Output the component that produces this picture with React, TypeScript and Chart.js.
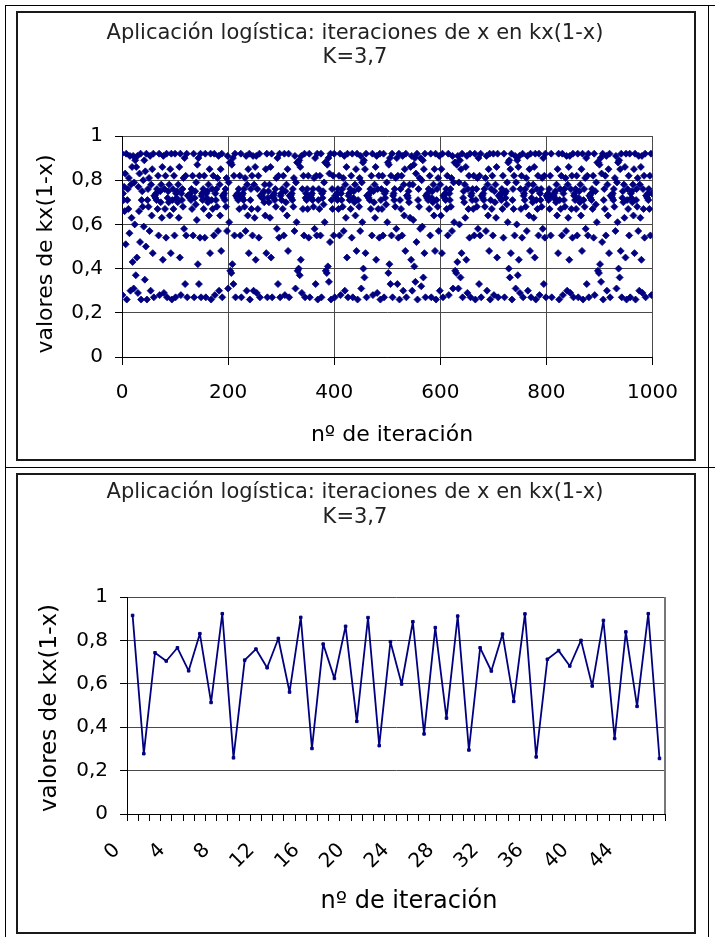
import React, { useEffect, useRef } from 'react';
import { Chart, registerables } from 'chart.js';

Chart.register(...registerables);

const FONT = '"DejaVu Sans", Verdana, sans-serif';
const NAVY = '#000080';
const GRID = '#4a4a4a';

const TITLE_LINE_1 = 'Aplicación logística: iteraciones de x en kx(1-x)';
const TITLE_LINE_2 = 'K=3,7';
const Y_TITLE = 'valores de kx(1-x)';
const X_TITLE = 'nº de iteración';

const Y_TICK_LABELS = ['0', '0,2', '0,4', '0,6', '0,8', '1'];
const TOP_X_TICK_LABELS = ['0', '200', '400', '600', '800', '1000'];

// ---- top chart: 1000 iterations (two decimals) ----
const iter000to199 = [
  0.92, 0.28, 0.74, 0.71, 0.77, 0.66, 0.83, 0.51, 0.92, 0.26,
  0.71, 0.76, 0.67, 0.81, 0.56, 0.91, 0.30, 0.78, 0.63, 0.86,
  0.43, 0.91, 0.31, 0.79, 0.60, 0.89, 0.37, 0.86, 0.45, 0.91,
  0.29, 0.77, 0.66, 0.83, 0.52, 0.92, 0.26, 0.71, 0.75, 0.68,
  0.80, 0.59, 0.89, 0.35, 0.84, 0.50, 0.92, 0.26, 0.71, 0.76,
  0.68, 0.81, 0.57, 0.91, 0.30, 0.78, 0.64, 0.85, 0.47, 0.92,
  0.27, 0.73, 0.73, 0.72, 0.74, 0.71, 0.76, 0.67, 0.82, 0.55,
  0.92, 0.28, 0.75, 0.70, 0.78, 0.63, 0.86, 0.44, 0.91, 0.29,
  0.76, 0.67, 0.82, 0.54, 0.92, 0.27, 0.72, 0.75, 0.70, 0.78,
  0.64, 0.85, 0.47, 0.92, 0.26, 0.71, 0.76, 0.67, 0.82, 0.55,
  0.92, 0.27, 0.74, 0.72, 0.75, 0.70, 0.78, 0.63, 0.86, 0.45,
  0.92, 0.28, 0.74, 0.71, 0.76, 0.68, 0.81, 0.58, 0.90, 0.33,
  0.82, 0.55, 0.92, 0.27, 0.73, 0.73, 0.73, 0.73, 0.72, 0.74,
  0.71, 0.76, 0.67, 0.82, 0.55, 0.92, 0.27, 0.72, 0.75, 0.69,
  0.79, 0.62, 0.87, 0.42, 0.90, 0.33, 0.82, 0.54, 0.92, 0.27,
  0.73, 0.74, 0.71, 0.76, 0.67, 0.82, 0.54, 0.92, 0.27, 0.74,
  0.72, 0.75, 0.70, 0.78, 0.64, 0.85, 0.47, 0.92, 0.26, 0.71,
  0.76, 0.67, 0.82, 0.55, 0.92, 0.28, 0.74, 0.71, 0.76, 0.68,
  0.81, 0.57, 0.91, 0.30, 0.78, 0.64, 0.85, 0.48, 0.92, 0.27,
  0.73, 0.73, 0.72, 0.74, 0.71, 0.76, 0.68, 0.81, 0.57, 0.91,
];
const iter200to399 = [
  0.31, 0.79, 0.61, 0.88, 0.39, 0.88, 0.38, 0.87, 0.42, 0.90,
  0.33, 0.82, 0.55, 0.92, 0.27, 0.73, 0.73, 0.72, 0.74, 0.71,
  0.76, 0.67, 0.82, 0.55, 0.92, 0.27, 0.73, 0.72, 0.74, 0.71,
  0.76, 0.68, 0.81, 0.57, 0.91, 0.30, 0.78, 0.64, 0.85, 0.47,
  0.92, 0.26, 0.71, 0.76, 0.67, 0.82, 0.55, 0.91, 0.30, 0.78,
  0.63, 0.86, 0.44, 0.91, 0.29, 0.76, 0.67, 0.82, 0.54, 0.92,
  0.27, 0.73, 0.73, 0.73, 0.72, 0.74, 0.72, 0.75, 0.70, 0.78,
  0.64, 0.85, 0.47, 0.92, 0.27, 0.72, 0.75, 0.70, 0.78, 0.63,
  0.86, 0.45, 0.92, 0.27, 0.73, 0.73, 0.72, 0.74, 0.71, 0.76,
  0.68, 0.81, 0.58, 0.90, 0.33, 0.82, 0.54, 0.92, 0.27, 0.73,
  0.74, 0.71, 0.76, 0.67, 0.82, 0.55, 0.92, 0.28, 0.75, 0.70,
  0.78, 0.64, 0.85, 0.48, 0.92, 0.27, 0.73, 0.73, 0.73, 0.72,
  0.74, 0.71, 0.76, 0.68, 0.81, 0.57, 0.91, 0.31, 0.79, 0.61,
  0.88, 0.39, 0.88, 0.40, 0.89, 0.37, 0.86, 0.44, 0.91, 0.29,
  0.76, 0.67, 0.82, 0.55, 0.92, 0.27, 0.72, 0.74, 0.71, 0.76,
  0.67, 0.82, 0.54, 0.92, 0.27, 0.73, 0.73, 0.72, 0.74, 0.71,
  0.76, 0.68, 0.81, 0.58, 0.90, 0.33, 0.82, 0.55, 0.92, 0.26,
  0.71, 0.76, 0.67, 0.82, 0.55, 0.92, 0.27, 0.74, 0.72, 0.75,
  0.69, 0.79, 0.61, 0.88, 0.39, 0.88, 0.38, 0.87, 0.41, 0.90,
  0.34, 0.83, 0.52, 0.92, 0.26, 0.71, 0.76, 0.67, 0.82, 0.55,
];
const iter400to599 = [
  0.92, 0.27, 0.73, 0.73, 0.72, 0.74, 0.71, 0.76, 0.67, 0.82,
  0.55, 0.92, 0.28, 0.74, 0.71, 0.76, 0.68, 0.81, 0.57, 0.91,
  0.30, 0.78, 0.63, 0.86, 0.45, 0.92, 0.27, 0.73, 0.74, 0.71,
  0.76, 0.67, 0.82, 0.54, 0.92, 0.27, 0.72, 0.75, 0.70, 0.78,
  0.64, 0.85, 0.48, 0.92, 0.26, 0.71, 0.76, 0.68, 0.81, 0.57,
  0.91, 0.31, 0.79, 0.61, 0.88, 0.40, 0.89, 0.36, 0.85, 0.47,
  0.92, 0.27, 0.73, 0.73, 0.73, 0.72, 0.74, 0.71, 0.76, 0.67,
  0.82, 0.55, 0.92, 0.28, 0.75, 0.70, 0.78, 0.63, 0.86, 0.44,
  0.91, 0.29, 0.76, 0.67, 0.82, 0.54, 0.92, 0.26, 0.71, 0.76,
  0.67, 0.82, 0.55, 0.92, 0.27, 0.74, 0.72, 0.75, 0.69, 0.79,
  0.61, 0.88, 0.38, 0.87, 0.42, 0.90, 0.33, 0.82, 0.55, 0.92,
  0.27, 0.73, 0.74, 0.71, 0.76, 0.68, 0.81, 0.58, 0.90, 0.33,
  0.82, 0.54, 0.92, 0.26, 0.71, 0.76, 0.67, 0.82, 0.55, 0.91,
  0.30, 0.78, 0.64, 0.85, 0.48, 0.92, 0.27, 0.73, 0.73, 0.72,
  0.75, 0.70, 0.78, 0.63, 0.86, 0.44, 0.91, 0.30, 0.78, 0.62,
  0.87, 0.41, 0.90, 0.34, 0.83, 0.52, 0.92, 0.26, 0.71, 0.76,
  0.68, 0.81, 0.58, 0.90, 0.32, 0.80, 0.59, 0.89, 0.36, 0.85,
  0.47, 0.92, 0.27, 0.73, 0.73, 0.72, 0.74, 0.71, 0.76, 0.67,
  0.82, 0.55, 0.92, 0.27, 0.72, 0.75, 0.70, 0.78, 0.64, 0.85,
  0.48, 0.92, 0.26, 0.71, 0.76, 0.68, 0.81, 0.57, 0.91, 0.30,
];
const iter600to799 = [
  0.78, 0.64, 0.85, 0.47, 0.92, 0.27, 0.73, 0.73, 0.72, 0.74,
  0.71, 0.76, 0.67, 0.82, 0.55, 0.92, 0.28, 0.74, 0.71, 0.76,
  0.68, 0.81, 0.57, 0.91, 0.31, 0.79, 0.61, 0.88, 0.39, 0.88,
  0.38, 0.87, 0.43, 0.91, 0.31, 0.79, 0.60, 0.89, 0.36, 0.85,
  0.47, 0.92, 0.27, 0.72, 0.75, 0.70, 0.78, 0.63, 0.86, 0.44,
  0.91, 0.29, 0.76, 0.67, 0.82, 0.54, 0.92, 0.27, 0.73, 0.74,
  0.71, 0.76, 0.67, 0.82, 0.55, 0.92, 0.26, 0.71, 0.76, 0.68,
  0.81, 0.58, 0.90, 0.33, 0.82, 0.55, 0.92, 0.27, 0.73, 0.73,
  0.72, 0.74, 0.71, 0.76, 0.68, 0.81, 0.57, 0.91, 0.30, 0.78,
  0.64, 0.85, 0.48, 0.92, 0.26, 0.71, 0.76, 0.67, 0.82, 0.55,
  0.92, 0.28, 0.75, 0.70, 0.78, 0.63, 0.86, 0.45, 0.92, 0.27,
  0.73, 0.73, 0.73, 0.72, 0.74, 0.71, 0.76, 0.67, 0.82, 0.54,
  0.92, 0.27, 0.74, 0.72, 0.75, 0.69, 0.79, 0.61, 0.88, 0.40,
  0.89, 0.36, 0.85, 0.47, 0.92, 0.26, 0.71, 0.76, 0.67, 0.82,
  0.55, 0.91, 0.31, 0.79, 0.60, 0.89, 0.37, 0.86, 0.44, 0.91,
  0.29, 0.76, 0.67, 0.82, 0.54, 0.92, 0.27, 0.73, 0.74, 0.71,
  0.76, 0.68, 0.81, 0.57, 0.91, 0.30, 0.78, 0.64, 0.85, 0.48,
  0.92, 0.27, 0.72, 0.75, 0.70, 0.78, 0.63, 0.86, 0.45, 0.92,
  0.26, 0.71, 0.76, 0.67, 0.82, 0.55, 0.92, 0.28, 0.74, 0.71,
  0.76, 0.68, 0.81, 0.58, 0.90, 0.33, 0.82, 0.54, 0.92, 0.27,
];
const iter800to999 = [
  0.73, 0.73, 0.72, 0.74, 0.71, 0.76, 0.67, 0.82, 0.55, 0.92,
  0.27, 0.73, 0.73, 0.73, 0.72, 0.74, 0.72, 0.75, 0.70, 0.78,
  0.64, 0.85, 0.47, 0.92, 0.26, 0.71, 0.76, 0.67, 0.82, 0.55,
  0.92, 0.28, 0.74, 0.71, 0.76, 0.68, 0.81, 0.57, 0.91, 0.30,
  0.78, 0.63, 0.86, 0.44, 0.91, 0.29, 0.76, 0.67, 0.82, 0.54,
  0.92, 0.27, 0.73, 0.74, 0.71, 0.76, 0.67, 0.82, 0.55, 0.92,
  0.27, 0.72, 0.75, 0.70, 0.78, 0.64, 0.85, 0.48, 0.92, 0.26,
  0.71, 0.76, 0.68, 0.81, 0.58, 0.90, 0.33, 0.82, 0.55, 0.92,
  0.27, 0.73, 0.73, 0.72, 0.74, 0.71, 0.76, 0.67, 0.82, 0.54,
  0.92, 0.28, 0.75, 0.69, 0.79, 0.61, 0.88, 0.39, 0.88, 0.38,
  0.87, 0.42, 0.90, 0.34, 0.83, 0.52, 0.92, 0.26, 0.71, 0.76,
  0.67, 0.82, 0.55, 0.91, 0.30, 0.78, 0.64, 0.85, 0.47, 0.92,
  0.27, 0.73, 0.73, 0.73, 0.72, 0.74, 0.71, 0.76, 0.68, 0.81,
  0.57, 0.91, 0.31, 0.79, 0.61, 0.88, 0.40, 0.89, 0.36, 0.85,
  0.48, 0.92, 0.27, 0.72, 0.75, 0.70, 0.78, 0.63, 0.86, 0.45,
  0.92, 0.26, 0.71, 0.76, 0.67, 0.82, 0.55, 0.92, 0.27, 0.74,
  0.72, 0.75, 0.70, 0.78, 0.64, 0.85, 0.47, 0.92, 0.26, 0.71,
  0.76, 0.68, 0.81, 0.57, 0.91, 0.30, 0.78, 0.63, 0.86, 0.44,
  0.91, 0.29, 0.76, 0.67, 0.82, 0.54, 0.92, 0.27, 0.73, 0.73,
  0.72, 0.74, 0.71, 0.76, 0.67, 0.82, 0.55, 0.92, 0.28, 0.74,
];

// ---- bottom chart: first 48 iterations ----
const BOTTOM_CATEGORIES = [
  '0', '1', '2', '3', '4', '5', '6', '7', '8', '9', '10', '11',
  '12', '13', '14', '15', '16', '17', '18', '19', '20', '21', '22', '23',
  '24', '25', '26', '27', '28', '29', '30', '31', '32', '33', '34', '35',
  '36', '37', '38', '39', '40', '41', '42', '43', '44', '45', '46', '47',
];
const BOTTOM_X_TICK_LABELS = ['0', '4', '8', '12', '16', '20', '24', '28', '32', '36', '40', '44'];
const bottomValues = [
  0.915, 0.278, 0.743, 0.705, 0.766, 0.660, 0.831, 0.514, 0.923, 0.259,
  0.709, 0.760, 0.674, 0.809, 0.562, 0.906, 0.302, 0.783, 0.625, 0.865,
  0.427, 0.905, 0.315, 0.794, 0.599, 0.886, 0.369, 0.859, 0.442, 0.912,
  0.295, 0.766, 0.659, 0.829, 0.519, 0.922, 0.263, 0.713, 0.753, 0.682,
  0.800, 0.590, 0.892, 0.348, 0.839, 0.496, 0.923, 0.256,
];

type TextItem = { text: string; x: number; y: number; size: number; rot?: number; color?: string };

function textPlugin(id: string, items: TextItem[]) {
  return {
    id,
    afterDraw(chart: any) {
      const ctx = chart.ctx as CanvasRenderingContext2D;
      for (const it of items) {
        ctx.save();
        ctx.font = `normal ${it.size}px ${FONT}`;
        ctx.fillStyle = it.color ?? '#000';
        ctx.textAlign = 'center';
        ctx.textBaseline = 'alphabetic';
        ctx.translate(it.x, it.y);
        if (it.rot) ctx.rotate(it.rot);
        ctx.fillText(it.text, 0, 0);
        ctx.restore();
      }
    },
  };
}

const rightFramePlugin = {
  id: 'rightFrame',
  beforeDatasetsDraw(chart: any) {
    const { ctx, chartArea } = chart;
    ctx.save();
    ctx.strokeStyle = '#777';
    ctx.lineWidth = 2;
    ctx.beginPath();
    ctx.moveTo(Math.round(chartArea.right), chartArea.top);
    ctx.lineTo(Math.round(chartArea.right), chartArea.bottom);
    ctx.stroke();
    ctx.restore();
  },
};

function yScale(width: number) {
  return {
    type: 'linear' as const,
    min: 0,
    max: 1,
    ticks: {
      stepSize: 0.2,
      callback: (v: any) => Y_TICK_LABELS[Math.round(Number(v) * 5)],
      font: { family: FONT, size: 20 },
      color: '#000',
      padding: 12,
    },
    grid: { color: GRID, lineWidth: 1, tickLength: 7, tickColor: '#000' },
    border: { display: true, color: '#000', width: 1 },
    afterFit: (s: any) => {
      s.width = width;
    },
  };
}

function TopChart() {
  const ref = useRef<HTMLCanvasElement>(null);
  useEffect(() => {
    const values = [...iter000to199, ...iter200to399, ...iter400to599, ...iter600to799, ...iter800to999];
    const points = values.map((v, i) => ({ x: i, y: v }));
    const chart = new Chart(ref.current as HTMLCanvasElement, {
      type: 'scatter',
      data: {
        datasets: [
          {
            data: points,
            pointStyle: 'rectRot',
            pointRadius: 3.5,
            borderWidth: 0.8,
            backgroundColor: NAVY,
            borderColor: NAVY,
            showLine: false,
          },
        ],
      },
      options: {
        responsive: false,
        animation: false,
        events: [],
        layout: { padding: { top: 123, right: 33, left: 0, bottom: 0 } },
        plugins: { legend: { display: false }, tooltip: { enabled: false }, title: { display: false } },
        scales: {
          x: {
            type: 'linear',
            min: 0,
            max: 1000,
            ticks: {
              stepSize: 200,
              maxRotation: 0,
              callback: (v: any) => TOP_X_TICK_LABELS[Math.round(Number(v) / 200)],
              font: { family: FONT, size: 20 },
              color: '#000',
              padding: 16,
            },
            grid: { color: GRID, lineWidth: 1, tickLength: 8, tickColor: '#000' },
            border: { display: true, color: '#000', width: 1 },
            afterFit: (s: any) => {
              s.height = 102;
            },
          },
          y: yScale(104),
        },
      },
      plugins: [
        textPlugin('topTexts', [
          { text: TITLE_LINE_1, x: 337, y: 26.3, size: 21, color: '#222' },
          { text: TITLE_LINE_2, x: 337, y: 50.3, size: 21, color: '#222' },
          { text: X_TITLE, x: 374, y: 428, size: 22 },
          { text: Y_TITLE, x: 33.7, y: 241, size: 22, rot: -Math.PI / 2 },
        ]),
      ],
    } as any);
    return () => chart.destroy();
  }, []);
  return <canvas ref={ref} width={676} height={446} style={{ position: 'absolute', left: 18, top: 13 }} />;
}

function BottomChart() {
  const ref = useRef<HTMLCanvasElement>(null);
  useEffect(() => {
    const chart = new Chart(ref.current as HTMLCanvasElement, {
      type: 'line',
      data: {
        labels: BOTTOM_CATEGORIES,
        datasets: [
          {
            data: bottomValues,
            borderColor: NAVY,
            backgroundColor: NAVY,
            borderWidth: 1.8,
            borderJoinStyle: 'round',
            borderCapStyle: 'round',
            pointStyle: 'rect',
            pointRadius: 1.8,
            pointBorderWidth: 1,
            tension: 0,
            fill: false,
          },
        ],
      },
      options: {
        responsive: false,
        animation: false,
        events: [],
        layout: { padding: { top: 122, right: 2, left: 0, bottom: 0 } },
        plugins: { legend: { display: false }, tooltip: { enabled: false }, title: { display: false } },
        scales: {
          x: {
            type: 'category',
            offset: true,
            ticks: {
              autoSkip: false,
              minRotation: 45,
              maxRotation: 45,
              labelOffset: -15.5,
              padding: 17.5,
              callback: (_v: any, i: number) =>
                BOTTOM_X_TICK_LABELS.includes(BOTTOM_CATEGORIES[i]) ? BOTTOM_CATEGORIES[i] : '',
              font: { family: FONT, size: 20 },
              color: '#000',
            },
            grid: { drawOnChartArea: false, offset: true, tickLength: 7, color: '#000', lineWidth: 1 },
            border: { display: true, color: '#000', width: 1 },
            afterFit: (s: any) => {
              s.height = 118;
            },
          },
          y: yScale(109),
        },
      },
      plugins: [
        rightFramePlugin,
        textPlugin('bottomTexts', [
          { text: TITLE_LINE_1, x: 337, y: 23.3, size: 21, color: '#222' },
          { text: TITLE_LINE_2, x: 337, y: 47.5, size: 21, color: '#222' },
          { text: X_TITLE, x: 391, y: 433.3, size: 24 },
          { text: Y_TITLE, x: 38, y: 233, size: 23, rot: -Math.PI / 2 },
        ]),
      ],
    } as any);
    return () => chart.destroy();
  }, []);
  return <canvas ref={ref} width={676} height={457} style={{ position: 'absolute', left: 18, top: 475 }} />;
}

const line = (left: number, top: number, width: number, height: number): React.CSSProperties => ({
  position: 'absolute',
  left,
  top,
  width,
  height,
  background: '#000',
});

const box = (left: number, top: number, width: number, height: number): React.CSSProperties => ({
  position: 'absolute',
  left,
  top,
  width,
  height,
  border: '2px solid #1a1a1a',
  boxSizing: 'border-box',
  background: '#fff',
});

export default function App() {
  return (
    <div style={{ position: 'absolute', left: 0, top: 0, width: 715, height: 937, background: '#fff', overflow: 'hidden' }}>
      <div style={line(5, 5, 710, 1)} />
      <div style={line(5, 5, 1, 932)} />
      <div style={line(5, 467, 710, 1)} />
      <div style={line(708, 5, 1, 932)} />
      <div style={box(16, 11, 680, 450)} />
      <div style={box(16, 473, 680, 461)} />
      <TopChart />
      <BottomChart />
    </div>
  );
}
